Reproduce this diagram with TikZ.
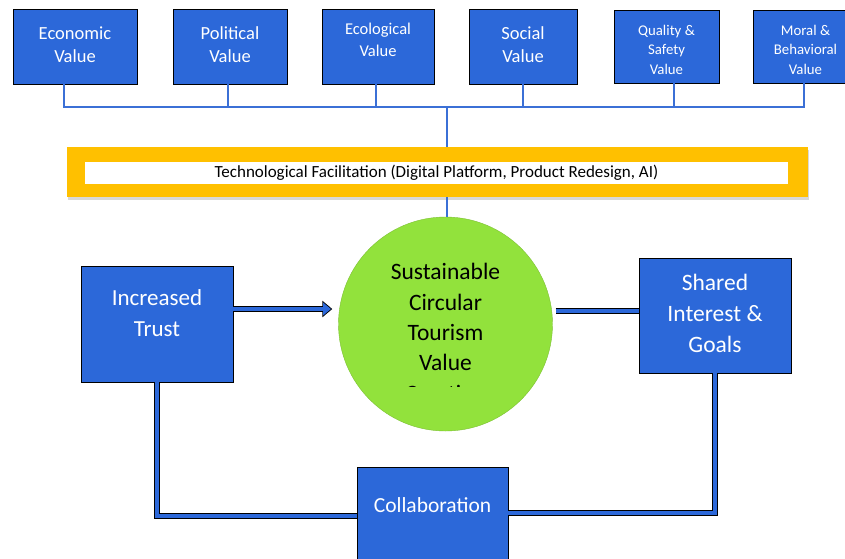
\documentclass[tikz,border=0pt]{standalone}
\usepackage{fontspec}
\setmainfont{Carlito}
\usepackage{tikz}
\usetikzlibrary{arrows.meta,shadows}
\definecolor{boxblue}{RGB}{44,104,217}
\definecolor{busblue}{RGB}{59,112,214}
\definecolor{ringgreen}{RGB}{146,226,60}
\definecolor{gold}{RGB}{255,192,0}
\tikzstyle{valbox} = [draw=black, fill=boxblue, text=white, align=center, inner sep=0pt, line width=0.8pt]
\tikzstyle{bigtxt} = [text=white, align=center, font={\fontsize{23}{30.5}\selectfont}]
\tikzstyle{bus} = [draw=busblue, line width=2.4pt]
\tikzstyle{pipe} = [draw=black, double=boxblue, line width=0.7pt, double distance=4.6pt]

\begin{document}
\begin{tikzpicture}[x=1pt,y=-1pt]
        \clip (0,0) rectangle (845,558);
        \fill[white] (0,0) rectangle (845,558);
        % value boxes
        \node[valbox,minimum width=124pt,minimum height=75pt,text depth=4pt,font={\fontsize{18.5}{23}\selectfont}](eco) at (75,46.5){Economic\\Value};
        \node[valbox,minimum width=114pt,minimum height=75pt,text depth=4pt,font={\fontsize{18.5}{23}\selectfont}](pol) at (230,46.5){Political\\Value};
        \node[valbox,minimum width=112pt,minimum height=75pt,text depth=14pt,font={\fontsize{16.5}{22}\selectfont}](ecol) at (378,46.5){Ecological\\Value};
        \node[valbox,minimum width=108pt,minimum height=75pt,text depth=4pt,font={\fontsize{18.5}{23}\selectfont}](soc) at (523,46.5){Social\\Value};
        \node[valbox,minimum width=105pt,minimum height=73pt,text height=56pt,font={\fontsize{14.8}{19.5}\selectfont}](qual) at (666.5,46.5){Quality \&\\Safety\\Value};
        \node[valbox,minimum width=105pt,minimum height=73pt,text height=56pt,font={\fontsize{14.8}{19.5}\selectfont}](moral) at (805.5,46.5){Moral \&\\Behavioral\\Value};
        % technology band
        \node[fill=gold,minimum width=741pt,minimum height=50pt,inner sep=0pt,drop shadow={shadow xshift=1pt,shadow yshift=-3pt,fill=black!30}](tech) at (437.5,172){};
        \node[fill=white,minimum width=703pt,minimum height=22pt,inner sep=0pt,font={\fontsize{17}{19}\selectfont}](techlbl) at (436.5,173){Technological Facilitation (Digital Platform, Product Redesign, AI)};
        % bus
        \coordinate (hub) at (447,107);
        \draw[bus]([xshift=-11pt]eco.south)|-(hub)-|([xshift=-1.5pt]moral.south);
        \draw[bus]([xshift=-2pt]pol.south)--([xshift=-2pt]pol.south|-hub);
        \draw[bus]([xshift=-2pt]ecol.south)--([xshift=-2pt]ecol.south|-hub);
        \draw[bus](soc.south)--(soc.south|-hub);
        \draw[bus]([xshift=7.5pt]qual.south)--([xshift=7.5pt]qual.south|-hub);
        \draw[bus](hub)--(hub|-tech.north);
        % centre
        \node[circle,draw=ringgreen!85!black,fill=ringgreen,minimum size=214pt,inner sep=0pt](circ) at (445.5,324){};
        \draw[bus](tech.south-|hub)--(circ.north-|hub);
        \begin{scope}
          \clip (330,220) rectangle (560,386);
          \node[align=center,font={\fontsize{23.5}{30.3}\selectfont}](circtxt) at (445.5,332.5){Sustainable\\Circular\\Tourism\\Value\\Creation};
        \end{scope}
        % lower boxes
        \node[valbox,minimum width=152pt,minimum height=116pt](trust) at (157,324){};
        \node[bigtxt](trusttxt) at (157,313){Increased\\Trust};
        \node[valbox,minimum width=152pt,minimum height=115pt](shared) at (715,315.5){};
        \node[bigtxt,font={\fontsize{23.5}{31}\selectfont}](sharedtxt) at (715,313){Shared\\Interest \&\\Goals};
        \node[valbox,minimum width=151pt,minimum height=98pt](collab) at (432.5,516){};
        \node[bigtxt,font={\fontsize{21.5}{30}\selectfont}](collabtxt) at (432.5,505){Collaboration};
        % links
        \draw[black,line width=6pt,-{Triangle[length=10pt,width=16pt]}]([yshift=15pt]trust.east)--([yshift=15pt,xshift=-6pt]circ.west);
        \draw[boxblue,line width=4.4pt,shorten >=1.4pt,-{Triangle[length=7.8pt,width=12.5pt]}]([yshift=15pt]trust.east)--([yshift=15pt,xshift=-6pt]circ.west);
        \draw[pipe]([yshift=13pt,xshift=3pt]circ.east)--([yshift=4.5pt]shared.west);
        \draw[pipe](trust.south)|-(collab.west);
        \draw[pipe](shared.south)|-([yshift=3pt]collab.east);
      \end{tikzpicture}
\end{document}
